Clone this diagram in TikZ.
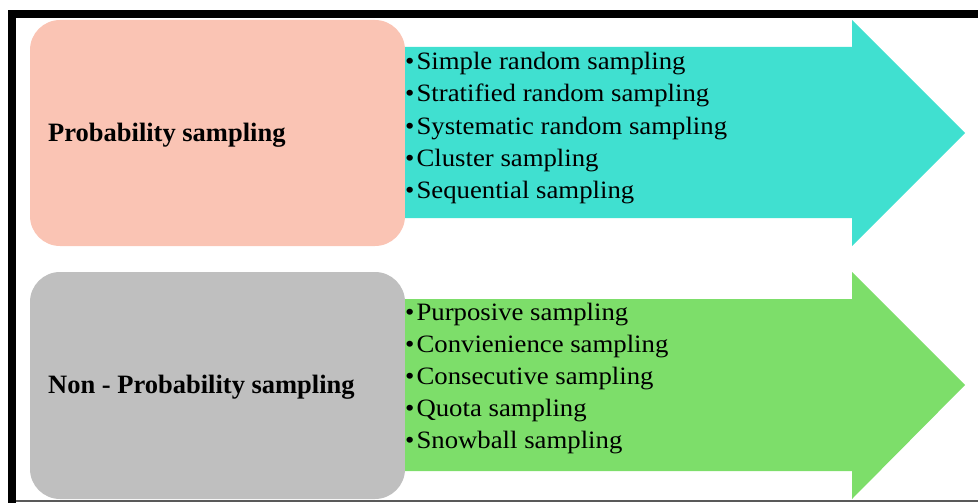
\documentclass[tikz,border=0pt]{standalone}
\usepackage{fontspec}
\setmainfont{Liberation Serif}
\newfontfamily\itemfont[FakeStretch=1.07]{Liberation Serif}
\usetikzlibrary{positioning}
\definecolor{boxpink}{RGB}{250,196,180}
\definecolor{boxgray}{RGB}{191,191,191}
\definecolor{arrowteal}{RGB}{64,224,208}
\definecolor{arrowgreen}{RGB}{125,222,106}
\tikzset{
catbox/.style={rounded corners=30pt},
catlabel/.style={anchor=base west, inner sep=0pt, font=\fontsize{26.5}{30}\selectfont\bfseries},
itemlabel/.style={anchor=base west, inner sep=0pt, font=\itemfont\fontsize{25}{32}\selectfont},
}

\begin{document}
\begin{tikzpicture}[x=1pt,y=-1pt]
		\useasboundingbox (0,0) rectangle (978,503);
		% frame
		\fill (8,10) rectangle (978,18);
		\fill (8,10) rectangle (16,503);
		\fill [black!65] (16,500) rectangle (978,502);
		% boxes
		\fill [boxpink, style=catbox] (30,20) rectangle (405,246);
		\fill [boxgray, style=catbox] (30,272) rectangle (405,499);
		% arrows
		\fill [arrowteal] (405,47) -- (852,47) -- (852,20) -- (965,133) -- (852,246) -- (852,218) -- (405,218) -- cycle;
		\fill [arrowgreen] (405,299) -- (852,299) -- (852,272) -- (965,385) -- (852,499) -- (852,471) -- (405,471) -- cycle;
		% labels
		\node [style=catlabel] (prob) at (48,141) {Probability sampling};
		\node [style=catlabel] (nonprob) at (48,393) {Non - Probability sampling};
		\foreach \t [count=\i] in {Simple random sampling, Stratified random sampling, Systematic random sampling, Cluster sampling, Sequential sampling}
			\node [style=itemlabel] (p\i) at (405,{70+32*(\i-1)}) {•\hspace{2pt}\t};
		\foreach \t [count=\i] in {Purposive sampling, Convienience sampling, Consecutive sampling, Quota sampling, Snowball sampling}
			\node [style=itemlabel] (n\i) at (405,{320+32*(\i-1)}) {•\hspace{2pt}\t};
	\end{tikzpicture}
\end{document}
